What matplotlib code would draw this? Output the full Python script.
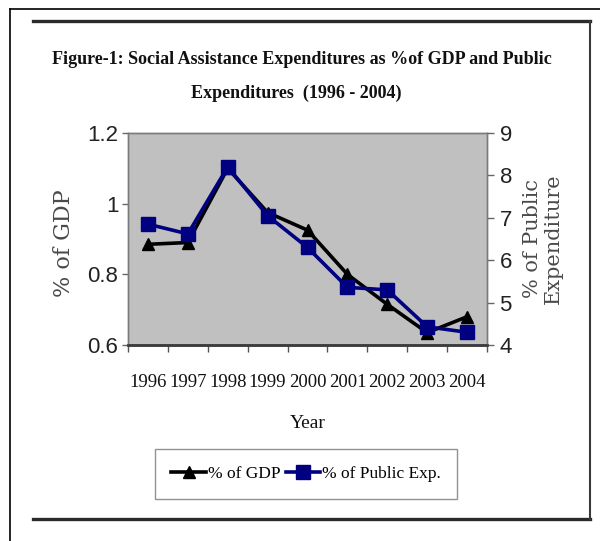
import matplotlib.pyplot as plt
from matplotlib.lines import Line2D

years = ['1996', '1997', '1998', '1999', '2000', '2001', '2002', '2003', '2004']
gdp_share = [0.885, 0.89, 1.10, 0.975, 0.925, 0.80, 0.715, 0.635, 0.68]
public_share = [6.85, 6.62, 8.2, 7.05, 6.3, 5.36, 5.3, 4.43, 4.3]

gdp_ticks = [0.6, 0.8, 1.0, 1.2]
gdp_ticklabels = ['0.6', '0.8', '1', '1.2']
pub_ticks = [4, 5, 6, 7, 8, 9]

W, H = 600, 541
fig = plt.figure(figsize=(W / 100, H / 100), dpi=100)
fig.patch.set_facecolor('white')

def px(x, y):
    # pixel position (from top-left) -> figure fraction
    return x / W, 1 - y / H

# frames around the chart (outer thin one is cut off by the image edge)
x0, y0 = px(10, 9)
fig.add_artist(Line2D([x0, x0], [y0, 0], color='black', lw=1.2))
fig.add_artist(Line2D([x0, 1], [y0, y0], color='black', lw=1.2))
xa, ya = px(33, 21)
xb, yb = px(590, 519)
fig.add_artist(Line2D([xa, xb], [ya, ya], color='#2a2a2a', lw=2.4))
fig.add_artist(Line2D([xa, xb], [yb, yb], color='#2a2a2a', lw=2.4))
fig.add_artist(Line2D([xb, xb], [ya, yb], color='#3a3a3a', lw=1.5))

serif = 'Liberation Serif'
sans = 'Liberation Sans'

tx, ty = px(302, 60)
fig.text(tx, ty, 'Figure-1: Social Assistance Expenditures as %of GDP and Public',
         ha='center', va='center', family=serif, weight='bold', fontsize=13, color='#111111')
tx, ty = px(296, 93)
fig.text(tx, ty, 'Expenditures  (1996 - 2004)',
         ha='center', va='center', family=serif, weight='bold', fontsize=13, color='#111111')

left, right = 128, 487
top, bottom = 133, 345
ax = fig.add_axes([left / W, 1 - bottom / H, (right - left) / W, (bottom - top) / H])
ax.set_facecolor('#c0c0c0')
ax2 = ax.twinx()

x = list(range(len(years)))
l1, = ax.plot(x, gdp_share, color='black', lw=2.6, marker='^', markersize=9, zorder=3)
l2, = ax2.plot(x, public_share, color='#000080', lw=2.6, marker='s', markersize=9.5, zorder=3)

ax.set_xlim(-0.5, len(years) - 0.5)
ax.set_ylim(0.6, 1.2)
ax2.set_ylim(4, 9)

ax.set_yticks(gdp_ticks)
ax.set_yticklabels(gdp_ticklabels)
ax2.set_yticks(pub_ticks)

# category labels between the boundary ticks (Excel style)
ax.set_xticks([i - 0.5 for i in range(len(years) + 1)])
ax.set_xticklabels([])
ax.set_xticks(x, minor=True)
ax.set_xticklabels(years, minor=True)
ax.tick_params(axis='x', which='major', length=5, width=1, color='#555555', direction='out')
ax.tick_params(axis='x', which='minor', length=0, pad=21)
for lab in ax.get_xticklabels(minor=True):
    lab.set_family(serif)
    lab.set_fontsize(13.5)
    lab.set_color('#111111')

ax.tick_params(axis='y', length=4, width=1, color='#666666', pad=3, labelsize=16, labelcolor='#222222')
ax2.tick_params(axis='y', length=5, width=1, color='#666666', pad=4, labelsize=16, labelcolor='#222222')
for lab in ax.get_yticklabels() + ax2.get_yticklabels():
    lab.set_family(sans)

for a in (ax, ax2):
    for side in ('top', 'right', 'left'):
        a.spines[side].set_color('#7a7a7a')
        a.spines[side].set_linewidth(1.0)
    a.spines['bottom'].set_color('#3c3c3c')
    a.spines['bottom'].set_linewidth(1.8)

ax.set_xlabel('Year', family=serif, fontsize=14, color='#111111', labelpad=17)
ax.set_ylabel('% of GDP', family='DejaVu Serif', fontsize=16, color='#4a4a4a', va='center')
ax.yaxis.set_label_coords(-0.178, 0.48)
ax2.set_ylabel('% of Public\nExpenditure', family='DejaVu Serif', fontsize=15, color='#4a4a4a',
               va='center', rotation=90, linespacing=1.1)
ax2.yaxis.set_label_coords(1.155, 0.5)

lx, ly = px(306, 474)
leg = fig.legend([l1, l2], ['% of GDP', '% of Public Exp.'], loc='center', bbox_to_anchor=(lx, ly),
                 ncol=2, frameon=True, fancybox=False, edgecolor='#777777', handlelength=2.0,
                 handletextpad=0.1, columnspacing=0.3, borderpad=0.95, borderaxespad=0,
                 prop={'family': serif, 'size': 12.5})
leg.get_frame().set_linewidth(1.0)

fig.savefig('out.png', dpi=100, facecolor='white')
